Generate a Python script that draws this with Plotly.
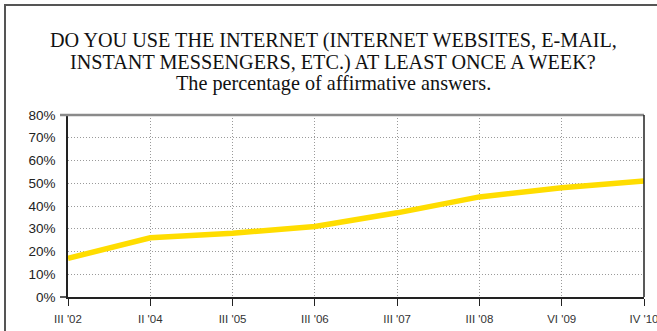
import plotly.graph_objects as go

# Survey waves and share of respondents answering "yes"
waves = ["III '02", "II '04", "III '05", "III '06", "III '07", "III '08", "VI '09", "IV '10"]
share_yes = [17, 26, 28, 31, 37, 44, 48, 51]
y_ticks = [0, 10, 20, 30, 40, 50, 60, 70, 80]
y_tick_labels = [f"{v}%" for v in y_ticks]
title_lines = [
    "DO YOU USE THE INTERNET (INTERNET WEBSITES, E-MAIL,",
    "INSTANT MESSENGERS, ETC.) AT LEAST ONCE A WEEK?",
    "The percentage of affirmative answers.",
]

W, H = 657, 331
L, R, T, B = 68, 13, 115, 34
plot_w = W - L - R
plot_h = H - T - B


def px_x(x):
    return (x - L) / plot_w


def px_y(y):
    return (H - B - y) / plot_h


fig = go.Figure()
fig.add_trace(go.Scatter(
    x=list(range(len(waves))),
    y=share_yes,
    mode="lines",
    line=dict(color="#FFDD00", width=5.5),
    hoverinfo="skip",
))

grid_style = dict(showgrid=True, gridcolor="#9a9a9a", griddash="1px,2px", gridwidth=1)

fig.update_layout(
    width=W, height=H,
    margin=dict(l=L, r=R, t=T, b=B, autoexpand=False),
    paper_bgcolor="white",
    plot_bgcolor="white",
    showlegend=False,
    xaxis=dict(
        range=[0, len(waves) - 1],
        tickmode="array",
        tickvals=list(range(len(waves))),
        ticktext=waves,
        ticks="outside",
        ticklen=7,
        tickcolor="#222",
        showline=True,
        linecolor="#222",
        linewidth=1.5,
        zeroline=False,
        automargin=False,
        ticklabeloverflow="allow",
        ticklabelstandoff=3,
        tickfont=dict(family="Liberation Sans, Arial, sans-serif", size=11.5, color="#333"),
        fixedrange=True,
        **grid_style,
    ),
    yaxis=dict(
        range=[0, 80],
        tickmode="array",
        tickvals=y_ticks,
        ticktext=y_tick_labels,
        ticks="outside",
        ticklen=8,
        tickcolor="rgba(0,0,0,0)",
        showline=True,
        linecolor="#222",
        linewidth=1.5,
        zeroline=False,
        automargin=False,
        tickfont=dict(family="Liberation Sans, Arial, sans-serif", size=13.5, color="#222"),
        fixedrange=True,
        **grid_style,
    ),
    shapes=[
        # outer frame
        dict(type="rect", xref="paper", yref="paper",
             x0=px_x(5), x1=px_x(W + 20), y0=px_y(H + 20), y1=px_y(5),
             line=dict(color="#555", width=2), fillcolor="rgba(0,0,0,0)"),
        # top edge of plotting area
        dict(type="line", xref="paper", yref="paper",
             x0=px_x(60), x1=1, y0=1, y1=1,
             line=dict(color="#8a8a8a", width=2.5)),
        # right edge of plotting area
        dict(type="line", xref="paper", yref="paper",
             x0=1, x1=1, y0=0, y1=1,
             line=dict(color="#222", width=1.5)),
        # short tick at 0%
        dict(type="line", xref="paper", yref="paper",
             x0=px_x(60), x1=0, y0=0, y1=0,
             line=dict(color="#222", width=1.5)),
    ],
    annotations=[
        dict(
            text=line,
            xref="paper", yref="paper",
            x=px_x(333), y=px_y(cy),
            xanchor="center", yanchor="middle",
            showarrow=False, align="center",
            font=dict(family="Liberation Serif, Times New Roman, serif", size=20.2, color="#111"),
        )
        for line, cy in zip(title_lines, [41, 62.5, 84])
    ],
)

fig.write_html("out.html")
